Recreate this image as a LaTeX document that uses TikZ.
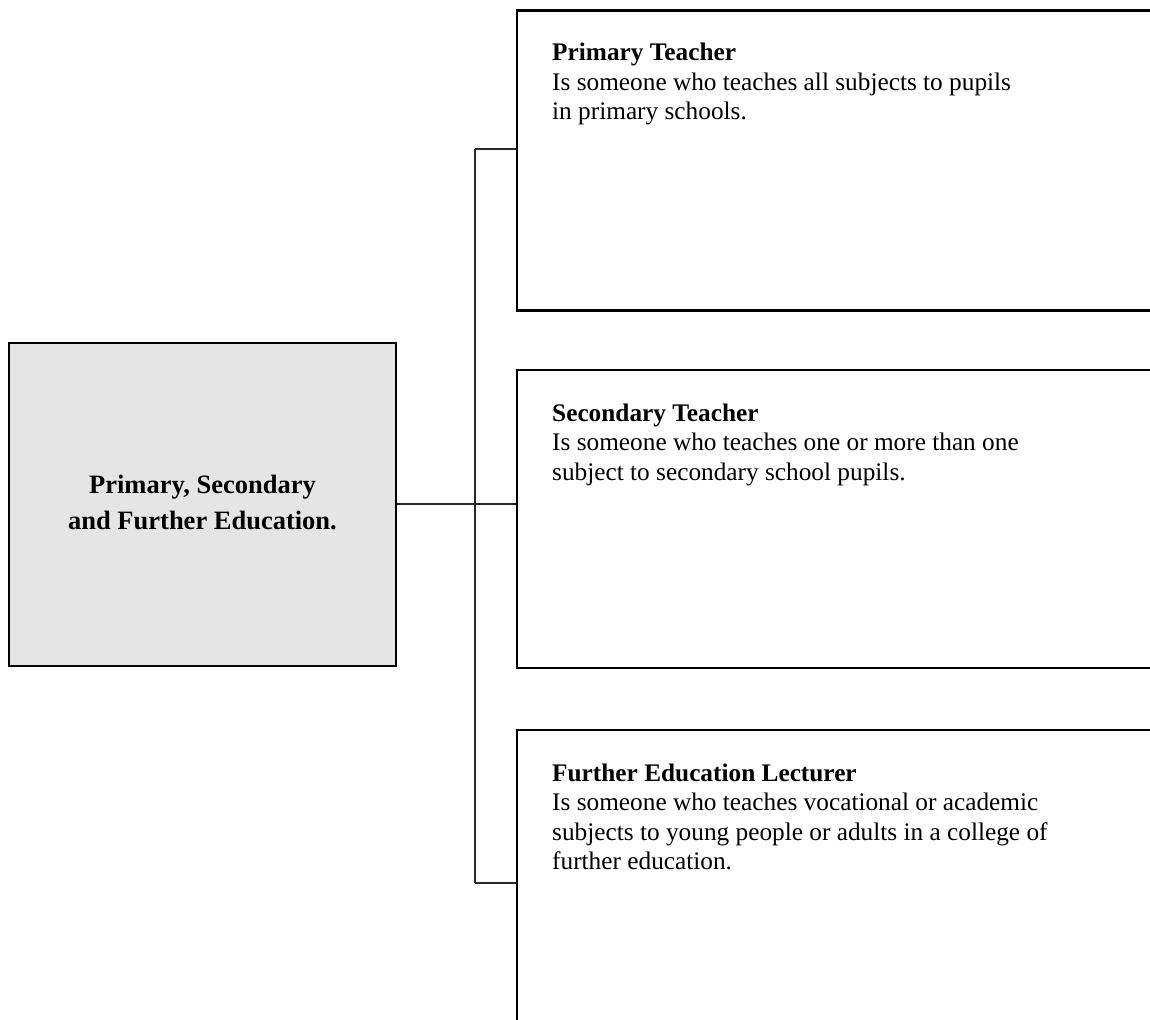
\documentclass[tikz,border=0pt]{standalone}
\usepackage{fontspec}
\setmainfont{Liberation Serif}
\definecolor{boxgray}{RGB}{229,229,229}
\definecolor{linegray}{RGB}{40,40,40}
\tikzstyle{group}=[rectangle, fill=boxgray, draw=black, line width=2.6pt, minimum width=387pt, minimum height=323pt, inner sep=0pt]
\tikzstyle{role}=[rectangle, fill=white, draw=black, line width=2.8pt, minimum width=660pt, minimum height=300pt, inner sep=0pt]
\tikzstyle{roletext}=[anchor=base west, align=left, inner sep=0pt, font=\fontsize{25.3}{29.5}\selectfont]
\tikzstyle{link}=[-, draw=linegray, line width=2.3pt]

\begin{document}
\begin{tikzpicture}[x=1pt, y=-1pt]
    \useasboundingbox (0,0) rectangle (1150,1019);
    \clip (0,0) rectangle (1150,1019);
    \node [style=group] (edu) at (202.5, 504.5) {};
    % base anchor sits on the last line
    \node [anchor=base, font=\fontsize{26.5}{36}\selectfont\bfseries, align=center, inner sep=0pt] (edutext) at (202.5, 529) {Primary, Secondary\\and Further Education.};

    \node [style=role] (prim) at (847, 160.5) {};
    \node [style=role, minimum height=298pt] (sec) at (847, 519) {};
    \node [style=role] (fur) at (847, 880) {};

    \node [style=roletext] (primtext) at (552, 120) {\textbf{Primary Teacher}\\Is someone who teaches all subjects to pupils\\in primary schools.};
    \node [style=roletext] (sectext) at (552, 480) {\textbf{Secondary Teacher}\\Is someone who teaches one or more than one\\subject to secondary school pupils.};
    \node [style=roletext] (furtext) at (552, 869.5) {\textbf{Further Education Lecturer}\\Is someone who teaches vocational or academic\\subjects to young people or adults in a college of\\further education.};

    \coordinate (j1) at (475, 149);
    \coordinate (j2) at (475, 504);
    \coordinate (j3) at (475, 883);
    \draw [style=link] (edu.east |- j2) to (j2);
    \draw [style=link] (j1) to (j3);
    \draw [style=link] (j1) to (j1 -| prim.west);
    \draw [style=link] (j2) to (j2 -| sec.west);
    \draw [style=link] (j3) to (j3 -| fur.west);
\end{tikzpicture}
\end{document}
